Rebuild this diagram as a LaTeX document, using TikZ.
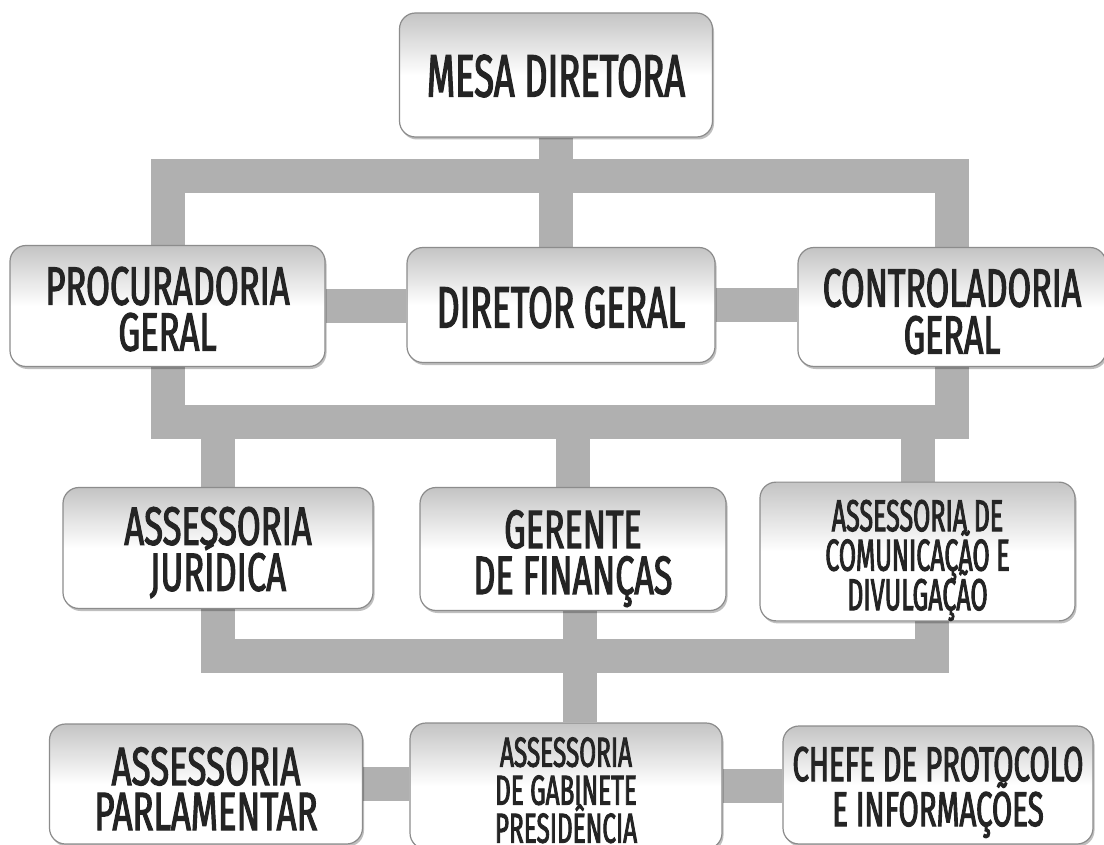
\documentclass[tikz,border=0pt]{standalone}
\usepackage{fontspec}
\usetikzlibrary{shadows}
\IfFontExistsTF{FiraSans-SemiBold.otf}%
  {\newcommand\orgname{FiraSans-SemiBold.otf}\newcommand\orgbold{}}%
  {\newcommand\orgname{Fira Sans}\newcommand\orgbold{,FakeBold=2}}
\definecolor{conncol}{RGB}{176,176,176}
\definecolor{boxtop}{RGB}{196,196,196}
\definecolor{boxline}{RGB}{140,140,140}
\definecolor{txt}{RGB}{36,36,36}
\pgfdeclarelayer{bg}
\pgfsetlayers{bg,main}
\pgfdeclareverticalshading{boxsh}{100bp}{color(0bp)=(white); color(50bp)=(white); color(75bp)=(boxtop); color(100bp)=(boxtop)}
% size, baselineskip, horizontal stretch
\newcommand{\orgfs}[3]{\edef\orgopts{FakeStretch=#3\orgbold}\expandafter\fontspec\expandafter[\orgopts]{\orgname}\fontsize{#1}{#2}\selectfont\lineskiplimit=-100pt\lineskip=0pt}
% strut that sets the height of a first line
\newcommand{\topstrut}[1]{\rule{0pt}{#1}}
\tikzset{
  orgbox/.style={shape=rectangle, rounded corners=16pt, draw=boxline, line width=1.2pt,
    shading=boxsh, text=txt, align=center, inner sep=0pt,
    drop shadow={shadow xshift=1.5pt, shadow yshift=-2.5pt, fill=black, opacity=0.25}},
  conn/.style={draw=conncol, line width=34pt, line join=miter, line cap=butt},
}
\begin{document}
\begin{tikzpicture}[x=1pt,y=-1pt]
\useasboundingbox (0,0) rectangle (1104,845);
% row 1
\node[orgbox, minimum width=313pt, minimum height=124pt, font=\orgfs{60}{56}{0.605}] (mesa) at (556,75) {\topstrut{44pt}MESA DIRETORA};
% row 2
\node[orgbox, minimum width=315pt, minimum height=121pt, font=\orgfs{54}{46}{0.64}] (proc) at (167.5,306) {\topstrut{44pt}PROCURADORIA\\GERAL};
\node[orgbox, minimum width=308pt, minimum height=115pt, font=\orgfs{58.5}{56}{0.61}] (dg) at (561,305) {\topstrut{46pt}DIRETOR GERAL};
\node[orgbox, minimum width=308pt, minimum height=119pt, font=\orgfs{54}{47}{0.63}] (ctrl) at (952,307) {\topstrut{47pt}CONTROLADORIA\\GERAL};
% row 3
\node[orgbox, minimum width=310pt, minimum height=121pt, font=\orgfs{54}{46}{0.64}] (aj) at (218,548) {\topstrut{47pt}ASSESSORIA\\JURÍDICA};
\node[orgbox, minimum width=306pt, minimum height=123pt, font=\orgfs{54}{46}{0.63}] (gf) at (573,549) {\topstrut{57pt}GERENTE\\DE FINANÇAS};
\node[orgbox, minimum width=315pt, minimum height=123pt, font=\orgfs{44.6}{39.5}{0.56}] (acd) at (917.5,551.5) {\topstrut{49pt}ASSESSORIA DE\\COMUNICAÇÃO E\\DIVULGAÇÃO};
% row 4
\node[orgbox, minimum width=313pt, minimum height=120pt, font=\orgfs{54}{45}{0.645}] (ap) at (206,784) {\topstrut{47pt}ASSESSORIA\\PARLAMENTAR};
\node[orgbox, minimum width=312pt, minimum height=126pt, font=\orgfs{42}{38}{0.58}] (gab) at (566,786) {\topstrut{38pt}ASSESSORIA\\DE GABINETE\\PRESIDÊNCIA};
\node[orgbox, minimum width=310pt, minimum height=118pt, font=\orgfs{49}{45}{0.60}] (chefe) at (938,785) {\topstrut{49pt}CHEFE DE PROTOCOLO\\E INFORMAÇÕES};
\begin{pgfonlayer}{bg}
\fill[white] (0,0) rectangle (1104,845);
\coordinate (b1) at (555,176);
\coordinate (b2) at (560,422);
\coordinate (b3) at (575,656);
\draw[conn] (mesa.south) -- (mesa.south |- dg.north);
\draw[conn] (proc.north) |- (b1) -| (ctrl.north);
\draw[conn] (proc.east) -- (proc.east -| dg.west);
\draw[conn] (dg.east) -- (dg.east -| ctrl.west);
\draw[conn] (proc.south) |- (b2) -| (ctrl.south);
\draw[conn] (aj.north |- b2) -- (aj.north);
\draw[conn] (gf.north |- b2) -- (gf.north);
\draw[conn] (acd.north |- b2) -- (acd.north);
\draw[conn] (aj.south) |- (b3) -| ([xshift=14.5pt]acd.south);
\draw[conn] ([xshift=7pt]gf.south) -- ([xshift=7pt]gf.south |- gab.north);
\draw[conn] (ap.east) -- (ap.east -| gab.west);
\draw[conn] (gab.east) -- (gab.east -| chefe.west);
\end{pgfonlayer}
\end{tikzpicture}
\end{document}
